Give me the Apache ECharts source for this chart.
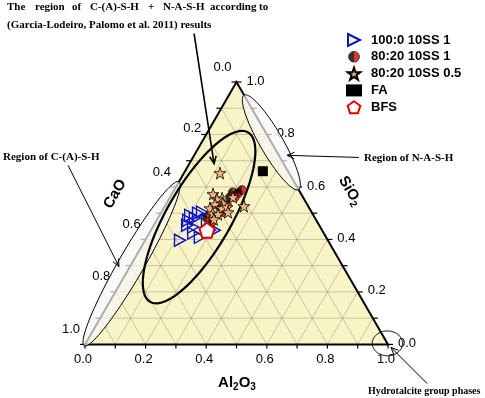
<!DOCTYPE html>
<html><head><meta charset="utf-8">
<script src="https://cdn.jsdelivr.net/npm/echarts@6/dist/echarts.min.js"></script>
<style>html,body{margin:0;padding:0;background:#fff}#c{width:485px;height:398px}</style>
</head><body><div id="c"></div><script>
const SQ = Math.sqrt(3) / 2;
// compositions as [CaO, Al2O3, SiO2]
const mix100_0_10SS_1 = [
  [0.488,0.115,0.397],[0.424,0.104,0.473],[0.408,0.101,0.492],[0.436,0.110,0.454],
  [0.420,0.133,0.447],[0.397,0.122,0.481],[0.377,0.123,0.500],[0.362,0.134,0.504],
  [0.432,0.145,0.424],[0.417,0.175,0.408],[0.370,0.195,0.435],[0.354,0.211,0.435],
  [0.361,0.166,0.473]
];
const mix80_20_10SS_1 = [
  [0.222,0.198,0.580],[0.207,0.217,0.576],[0.241,0.198,0.561],[0.225,0.214,0.561],
  [0.293,0.184,0.523],[0.293,0.203,0.504],[0.335,0.180,0.485],[0.348,0.186,0.466],
  [0.266,0.203,0.531],[0.188,0.224,0.588],[0.357,0.162,0.481]
];
const mix80_20_10SS_05 = [
  [0.228,0.119,0.653],[0.291,0.136,0.573],[0.269,0.174,0.557],[0.288,0.159,0.553],
  [0.276,0.186,0.538],[0.304,0.162,0.534],[0.328,0.153,0.519],[0.289,0.192,0.519],
  [0.270,0.207,0.523],[0.328,0.172,0.500],[0.313,0.191,0.496],[0.231,0.208,0.561],
  [0.212,0.261,0.527],[0.336,0.187,0.477],[0.276,0.220,0.504]
];
const FA = [[0.083,0.257,0.660]];
const BFS = [[0.380,0.185,0.435]];
const seriesNames = ['100:0 10SS 1','80:20 10SS 1','80:20 10SS 0.5','FA','BFS'];
const tickValues = [0,0.2,0.4,0.6,0.8,1.0];
const tickLabels = ['0.0','0.2','0.4','0.6','0.8','1.0'];
const allTicks = [0,0.1,0.2,0.3,0.4,0.5,0.6,0.7,0.8,0.9,1.0];
const gridSteps = [0.1,0.2,0.3,0.4,0.5,0.6,0.7,0.8,0.9];
// annotated regions: centre [CaO, Al2O3, SiO2], semi-axes in triangle-side units, angle in degrees
const regions = [
  {center:[0.6925,0,0.3075], A:0.3125, B:0.042, ang:60, fill:'rgba(246,246,246,0.7)', lw:1},
  {center:[0,0.23,0.77], A:0.18, B:0.038, ang:-60, fill:'rgba(246,246,246,0.7)', lw:1},
  {center:[0.381,0.134,0.485], A:0.323, B:0.106, ang:60, fill:null, lw:2.2},
  {center:[0,0.996,0.004], A:0.05, B:0.041, ang:0, fill:null, lw:1}
];
// annotation arrows, cartesian triangle-side units [from, to]
const arrows = [
  {from:[0.360,1.026], to:[0.426,0.597], lw:1.6},
  {from:[-0.056,0.591], to:[0.112,0.257], lw:1},
  {from:[0.904,0.617], to:[0.667,0.624], lw:1},
  {from:[1.129,-0.129], to:[1.010,-0.010], lw:1}
];

function tern(p) { const c=p[0], a=p[1], s=p[2]; return [a + s/2, s*SQ]; }

const FONT = 'Liberation Sans, Arial, sans-serif';
const SERIF = 'Liberation Serif, Times New Roman, serif';

function renderFrame(params, api) {
  const P = (c,a,s) => api.coord(tern([c,a,s]));
  const ch = [];
  const L = P(1,0,0), R = P(0,1,0), T = P(0,0,1);
  ch.push({type:'polygon', shape:{points:[L,R,T]}, style:{fill:'#f8f4c6'}});
  const gs = {stroke:'rgba(110,110,100,0.35)', lineWidth:1, fill:null};
  gridSteps.forEach(g => {
    let p1=P(1-g,0,g), p2=P(0,1-g,g);
    ch.push({type:'line', shape:{x1:p1[0],y1:p1[1],x2:p2[0],y2:p2[1]}, style:gs});
    p1=P(1-g,g,0); p2=P(0,g,1-g);
    ch.push({type:'line', shape:{x1:p1[0],y1:p1[1],x2:p2[0],y2:p2[1]}, style:gs});
    p1=P(g,1-g,0); p2=P(g,0,1-g);
    ch.push({type:'line', shape:{x1:p1[0],y1:p1[1],x2:p2[0],y2:p2[1]}, style:gs});
  });
  const ts = {stroke:'#000', lineWidth:1.2};
  allTicks.forEach(v => {
    let p = P(1-v, v, 0);
    ch.push({type:'line', shape:{x1:p[0],y1:p[1],x2:p[0],y2:p[1]+4}, style:ts});
    p = P(v, 0, 1-v);
    ch.push({type:'line', shape:{x1:p[0]-5,y1:p[1],x2:p[0],y2:p[1]}, style:ts});
    p = P(0, 1-v, v);
    ch.push({type:'line', shape:{x1:p[0],y1:p[1],x2:p[0]+5,y2:p[1]}, style:ts});
  });
  ch.push({type:'polygon', shape:{points:[L,R,T]}, style:{fill:null, stroke:'#000', lineWidth:2, lineJoin:'miter'}});
  const lab = (x,y,t) => ({type:'text', x:x, y:y, style:{text:t, fill:'#000', fontSize:13, fontFamily:FONT, align:'center', verticalAlign:'middle'}});
  tickValues.forEach((v,i) => {
    let p = P(1-v, v, 0);
    ch.push(lab(p[0]-2, p[1]+15, tickLabels[i]));
    p = P(v, 0, 1-v);
    ch.push(lab(p[0]-14, p[1]-(v===0.2?6:15), tickLabels[i]));
    p = P(0, 1-v, v);
    ch.push(lab(p[0]+19, p[1]-1, tickLabels[i]));
  });
  return {type:'group', children:ch};
}

function renderRegion(params, api) {
  const e = regions[params.dataIndex];
  const c = tern(e.center), th = e.ang*Math.PI/180;
  const pts = [];
  for (let k=0;k<=96;k++){
    const t = k/96*2*Math.PI;
    const x = c[0] + e.A*Math.cos(t)*Math.cos(th) - e.B*Math.sin(t)*Math.sin(th);
    const y = c[1] + e.A*Math.cos(t)*Math.sin(th) + e.B*Math.sin(t)*Math.cos(th);
    pts.push(api.coord([x,y]));
  }
  return {type:'polygon', shape:{points:pts}, style:{fill:e.fill, stroke:'#000', lineWidth:e.lw}};
}

function renderArrow(params, api) {
  const a = arrows[params.dataIndex];
  const p1 = api.coord(a.from), p2 = api.coord(a.to);
  const ang = Math.atan2(p2[1]-p1[1], p2[0]-p1[0]);
  const len = 8, spread = 0.42;
  const h1 = [p2[0]-len*Math.cos(ang-spread), p2[1]-len*Math.sin(ang-spread)];
  const h2 = [p2[0]-len*Math.cos(ang+spread), p2[1]-len*Math.sin(ang+spread)];
  const st = {stroke:'#000', lineWidth:a.lw, fill:null};
  return {type:'group', children:[
    {type:'line', shape:{x1:p1[0],y1:p1[1],x2:p2[0],y2:p2[1]}, style:st},
    {type:'polyline', shape:{points:[h1,p2,h2]}, style:st}
  ]};
}

const halfCircle = 'image://data:image/svg+xml;charset=utf-8,' + encodeURIComponent(
  '<svg xmlns="http://www.w3.org/2000/svg" width="40" height="40" viewBox="0 0 40 40">' +
  '<path d="M20,2 A18,18 0 0 0 20,38 Z" fill="#000"/>' +
  '<path d="M20,2 A18,18 0 0 1 20,38 Z" fill="#e00000"/>' +
  '<circle cx="20" cy="20" r="18" fill="none" stroke="#000" stroke-width="3"/></svg>');
const triRight = 'path://M0,0 L100,50 L0,100 Z';
const star = 'path://M50,0 L61.8,35.1 L97.6,35.1 L68.8,56.7 L79.4,91 L50,70 L20.6,91 L31.2,56.7 L2.4,35.1 L38.2,35.1 Z';
const pentagon = 'path://M50,0 L97.6,34.5 L79.4,90.5 L20.6,90.5 L2.4,34.5 Z';

const chart = echarts.init(document.getElementById('c'), null, {renderer:'canvas'});
const sub = {a:{fontSize:15, fontWeight:'bold', fontFamily:FONT, fill:'#000'}, b:{fontSize:10, fontWeight:'bold', fontFamily:FONT, fill:'#000', padding:[8,0,0,0]}};
const words1 = [['The',7],['region',35],['of',72],['C-(A)-S-H',90],['+',148],['N-A-S-H',163],['according',210],['to',259]];
const annStyle = (t,size) => ({text:t, fill:'#000', fontSize:size, fontWeight:'bold', fontFamily:SERIF, verticalAlign:'middle'});
const graphics = [];
words1.forEach(w => graphics.push({type:'text', x:w[1], y:7, style:annStyle(w[0],11)}));
graphics.push({type:'text', x:7, y:25, style:annStyle('(Garcia-Lodeiro, Palomo et al. 2011) results',11)});
graphics.push({type:'text', x:3, y:157, style:annStyle('Region of C-(A)-S-H',11)});
graphics.push({type:'text', x:364, y:158, style:annStyle('Region of N-A-S-H',11)});
graphics.push({type:'text', x:368, y:391, style:annStyle('Hydrotalcite group phases',10)});
graphics.push({type:'text', x:115, y:194, rotation:Math.PI/3, style:{text:'CaO', fill:'#000', fontSize:15, fontWeight:'bold', fontFamily:FONT, align:'center', verticalAlign:'middle'}});
graphics.push({type:'text', x:350, y:191, rotation:-Math.PI/3, style:{text:'{a|SiO}{b|2}', rich:sub, align:'center', verticalAlign:'middle'}});
graphics.push({type:'text', x:237, y:383, style:{text:'{a|Al}{b|2}{a|O}{b|3}', rich:sub, align:'center', verticalAlign:'middle'}});

chart.setOption({
  animation:false,
  backgroundColor:'#fff',
  grid:{left:85, top:82, width:303, height:262.4},
  xAxis:{type:'value', min:0, max:1, show:false},
  yAxis:{type:'value', min:0, max:SQ, show:false},
  legend:{
    orient:'vertical', left:341, top:28, itemWidth:16, itemHeight:12, itemGap:2.8,
    textStyle:{fontFamily:FONT, fontWeight:'bold', fontSize:13, color:'#000', padding:[0,0,0,4], lineHeight:14},
    data:[
      {name:seriesNames[0], itemStyle:{color:'#faf6c8'}},
      seriesNames[1], seriesNames[2], seriesNames[3], seriesNames[4]
    ]
  },
  graphic:graphics,
  series:[
    {type:'custom', coordinateSystem:'cartesian2d', data:[[0,0]], renderItem:renderFrame, clip:false, silent:true, z:1},
    {type:'custom', coordinateSystem:'cartesian2d', data:regions.map(()=>[0,0]), renderItem:renderRegion, clip:false, silent:true, z:2},
    {name:seriesNames[0], type:'scatter', data:mix100_0_10SS_1.map(tern), symbol:triRight, symbolSize:[11,12],
     itemStyle:{color:'rgba(255,255,255,0)', borderColor:'#0a14c8', borderWidth:1.4, opacity:1}, z:3},
    {name:seriesNames[1], type:'scatter', data:mix80_20_10SS_1.map(tern), symbol:halfCircle, symbolSize:10, z:4},
    {name:seriesNames[2], type:'scatter', data:mix80_20_10SS_05.map(tern), symbol:star, symbolSize:12,
     itemStyle:{color:'#f2b27a', borderColor:'#000', borderWidth:0.8, opacity:1}, z:5},
    {name:seriesNames[3], type:'scatter', data:FA.map(tern), symbol:'rect', symbolSize:10,
     itemStyle:{color:'#000', opacity:1}, z:6},
    {name:seriesNames[4], type:'scatter', data:BFS.map(tern), symbol:pentagon, symbolSize:15,
     itemStyle:{color:'#fff', borderColor:'#e00000', borderWidth:2, opacity:1}, z:7},
    {type:'custom', coordinateSystem:'cartesian2d', data:arrows.map(()=>[0,0]), renderItem:renderArrow, clip:false, silent:true, z:8}
  ]
});
</script></body></html>
